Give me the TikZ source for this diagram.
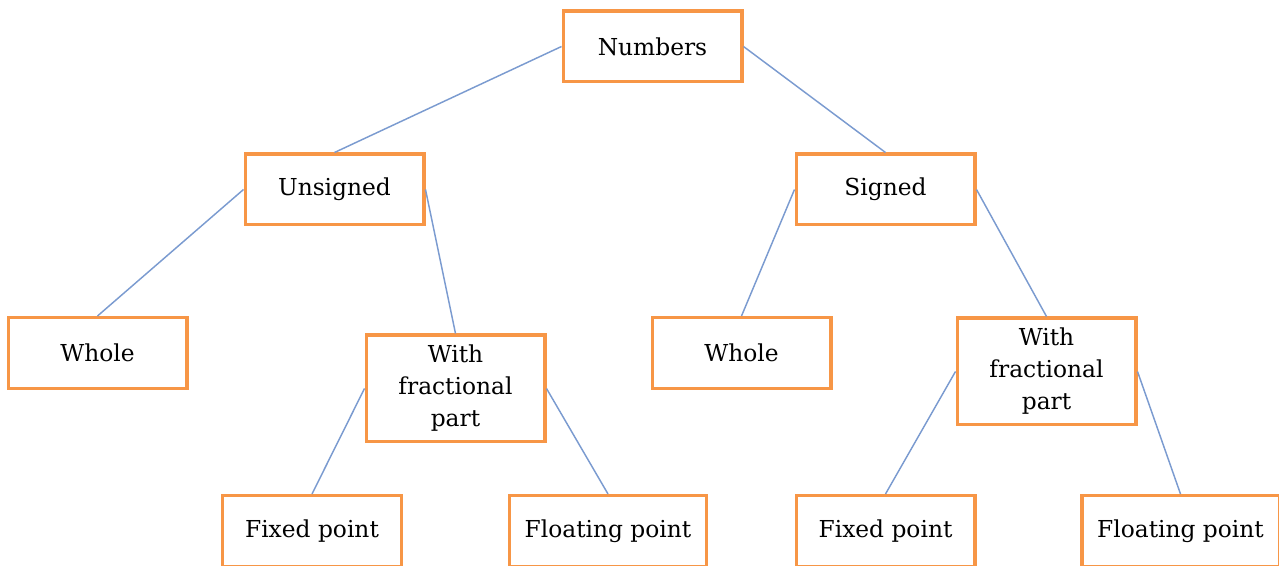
\documentclass[tikz,border=0pt]{standalone}
\usepackage{fontspec}
\setmainfont{DejaVu Serif}
\usepackage{tikz}
\usetikzlibrary{positioning}
\definecolor{boxorange}{HTML}{F79646}
\definecolor{linkblue}{HTML}{7B9BD0}

\begin{document}
\begin{tikzpicture}[
    x=0.75pt, y=-0.75pt,
    box/.style={draw=boxorange, line width=2.5pt, fill=white, minimum width=134pt, minimum height=53pt, align=center, inner sep=2pt, font=\fontsize{17.5}{24}\selectfont},
    wide/.style={box, minimum width=148pt},
    tall/.style={box, minimum height=80pt},
    link/.style={draw=linkblue, line width=1.1pt}
]
    \useasboundingbox (0,0) rectangle (1279,566);

    % Boxes
    \node[box] (num) at (652.5,46.5) {Numbers};

    \node[box] (uns) at (334.5,189.5) {Unsigned};
    \node[box] (sig) at (885.5,189.5) {Signed};

    \node[box] (uwhole) at (97.5,353) {Whole};
    \node[tall] (ufrac) at (455.5,388.5) {With\\fractional\\part};
    \node[box] (swhole) at (741.5,353) {Whole};
    \node[tall] (sfrac) at (1046.5,371.5) {With\\fractional\\part};

    \node[box] (ufixed) at (312,531) {Fixed point};
    \node[wide] (ufloat) at (608,531) {Floating point};
    \node[box] (sfixed) at (885.5,531) {Fixed point};
    \node[wide] (sfloat) at (1180.5,531) {Floating point};

    % Links
    \draw[link] (num.west) -- (uns.north);
    \draw[link] (num.east) -- (sig.north);

    \draw[link] (uns.west) -- (uwhole.north);
    \draw[link] (uns.east) -- (ufrac.north);
    \draw[link] (sig.west) -- (swhole.north);
    \draw[link] (sig.east) -- (sfrac.north);

    \draw[link] (ufrac.west) -- (ufixed.north);
    \draw[link] (ufrac.east) -- (ufloat.north);
    \draw[link] (sfrac.west) -- (sfixed.north);
    \draw[link] (sfrac.east) -- (sfloat.north);
\end{tikzpicture}
\end{document}
